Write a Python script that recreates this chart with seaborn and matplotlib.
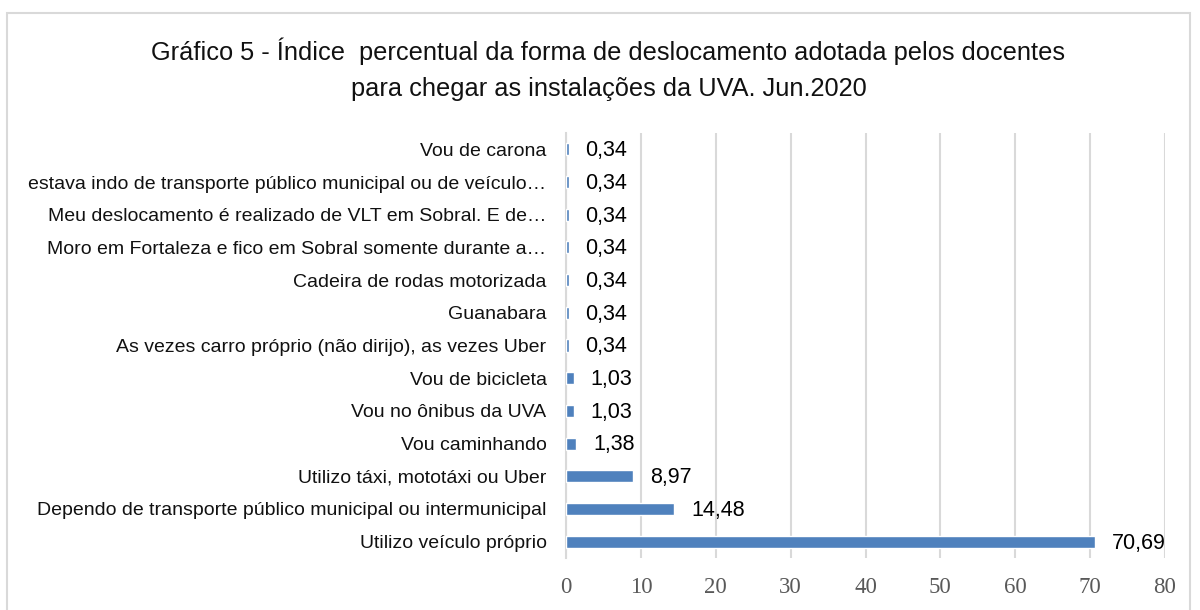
import numpy as np
import pandas as pd
import seaborn as sns
import matplotlib.pyplot as plt
from matplotlib.patches import Rectangle

categorias = [
    'Vou de carona',
    'estava indo de transporte público municipal ou de veículo…',
    'Meu deslocamento é realizado de VLT em Sobral. E de…',
    'Moro em Fortaleza e fico em Sobral somente durante a…',
    'Cadeira de rodas motorizada',
    'Guanabara',
    'As vezes carro próprio (não dirijo), as vezes Uber',
    'Vou de bicicleta',
    'Vou no ônibus da UVA',
    'Vou caminhando',
    'Utilizo táxi, mototáxi ou Uber',
    'Dependo de transporte público municipal ou intermunicipal',
    'Utilizo veículo próprio',
]
valores = [0.34, 0.34, 0.34, 0.34, 0.34, 0.34, 0.34, 1.03, 1.03, 1.38, 8.97, 14.48, 70.69]
rotulos = ['0,34', '0,34', '0,34', '0,34', '0,34', '0,34', '0,34', '1,03', '1,03', '1,38', '8,97', '14,48', '70,69']
ticks_x = [0, 10, 20, 30, 40, 50, 60, 70, 80]

df = pd.DataFrame({'Forma': categorias, 'Percentual': valores})

sns.set_style('white')
plt.rcParams['font.family'] = ['Liberation Sans', 'DejaVu Sans']

fig = plt.figure(figsize=(12, 6.1), dpi=100)
ax = fig.add_axes([0.4717, 0.0852, 0.4991, 0.6968])

sns.barplot(data=df, y='Forma', x='Percentual', color='#4F81BD', saturation=1,
            width=0.37, orient='h', ax=ax, zorder=3)

ax.set_xlim(0, 80)
ax.set_xticks(ticks_x)
ax.set_xticklabels([str(v) for v in ticks_x], fontfamily='Liberation Serif',
                   fontsize=16.5, color='#595959')
ax.tick_params(axis='x', length=0, pad=14)
ax.tick_params(axis='y', length=0, pad=14, labelsize=14, labelcolor='#111111')
ax.grid(axis='x', color='#d9d9d9', linewidth=1.5, zorder=0)
ax.set_xlabel('')
ax.set_ylabel('')
for s in ['top', 'right', 'bottom']:
    ax.spines[s].set_visible(False)
ax.spines['left'].set_color('#d9d9d9')
ax.spines['left'].set_linewidth(1.5)

# rótulos de dados
for i, (v, r) in enumerate(zip(valores, rotulos)):
    ax.annotate(r, xy=(v, i), xytext=(12, -1), textcoords='offset points',
                va='center', ha='left', fontsize=15.5, color='black')

fig.text(0.507, 0.887, 'Gráfico 5 - Índice  percentual da forma de deslocamento adotada pelos docentes\npara chegar as instalações da UVA. Jun.2020',
         ha='center', va='center', fontsize=18.3, color='#111111', linespacing=1.65)

fig.patches.append(Rectangle((0.006, -0.05), 0.986, 1.028, transform=fig.transFigure,
                             fill=False, edgecolor='#d9d9d9', linewidth=1.5))

plt.savefig('out.png', dpi=100)
